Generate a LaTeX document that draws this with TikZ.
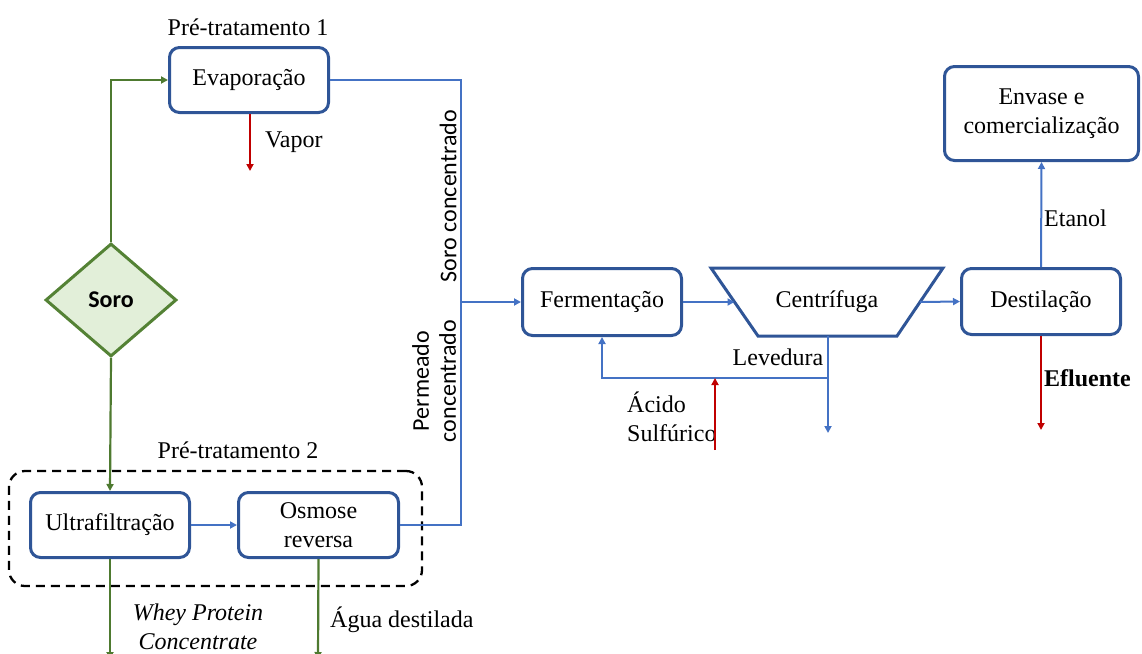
\documentclass[tikz,border=0pt]{standalone}
\usepackage{fontspec}
\setmainfont{Liberation Serif}
\newfontfamily\calibrifont{Carlito}
\usetikzlibrary{shapes.geometric,arrows.meta}
\definecolor{boxblue}{HTML}{2F5597}
\definecolor{lineblue}{HTML}{4472C4}
\definecolor{darkred}{HTML}{C00000}
\definecolor{leaf}{HTML}{4E7A30}
\definecolor{leafborder}{HTML}{548235}
\definecolor{leaffill}{HTML}{E2EFD9}
\tikzset{
  procbox/.style={draw=boxblue, line width=3pt, rounded corners=10pt, fill=white,
    inner sep=0pt, align=center},
  tip/.style={-{Triangle[length=7pt,width=7pt]}},
  blueline/.style={draw=lineblue, line width=2pt},
  redline/.style={draw=darkred, line width=2pt},
  greenline/.style={draw=leaf, line width=2.2pt},
  lbl/.style={inner sep=0pt},
  sanslbl/.style={inner sep=0pt, font=\fontsize{24}{27}\selectfont\calibrifont},
}
\begin{document}
\begin{tikzpicture}[x=1pt,y=-1pt,font=\fontsize{24}{29}\selectfont]
\useasboundingbox (0,0) rectangle (1142,653);
\clip (0,0) rectangle (1142,653);

% group box
\node[draw=black, dashed, dash pattern=on 9pt off 6pt, line width=2.3pt, rounded corners=16pt,
  minimum width=413pt, minimum height=115pt, inner sep=0pt] (grp) at (215.5,528.5) {};

% process nodes
\node[procbox, minimum width=159pt, minimum height=65pt] (evap) at (249,80) {Evaporação};
\node[procbox, minimum width=159pt, minimum height=65pt] (ultra) at (110,525) {Ultrafiltração};
\node[procbox, minimum width=160pt, minimum height=65pt] (osm) at (318.5,525) {Osmose\\reversa};
\node[procbox, minimum width=159pt, minimum height=67pt] (ferm) at (602,302) {Fermentação};
\node[procbox, minimum width=159pt, minimum height=66pt] (dest) at (1041,301.5) {Destilação};
\node[procbox, minimum width=194pt, minimum height=94pt] (env) at (1041.5,113.5) {Envase e\\comercialização};

% centrifuge (inverted trapezoid)
\draw[draw=boxblue, line width=3pt, fill=white, line join=miter]
  (711,268) -- (943,268) -- (897,336) -- (758,336) -- cycle;
\node[lbl] (centr) at (827,302) {Centrífuga};
\coordinate (centrW) at (734.5,302);
\coordinate (centrE) at (920,302);
\coordinate (centrS) at (828,336);

\node[diamond, draw=leafborder, fill=leaffill, line width=3pt, aspect=1.155,
  minimum width=131pt, minimum height=113pt, inner sep=0pt,
  font=\fontsize{24}{29}\selectfont\calibrifont\bfseries] (soro) at (111,300) {Soro};

% labels
\node[lbl] (pt1) at (248,27) {Pré-tratamento 1};
\node[lbl] (pt2) at (238,450) {Pré-tratamento 2};
\node[lbl, anchor=west] (vapor) at (265,142) {Vapor};
\node[lbl, align=center, font=\fontsize{24}{29}\selectfont\itshape] (whey) at (198,627) {Whey Protein\\Concentrate};
\node[lbl, anchor=west] (agua) at (330,620) {Água destilada};
\node[lbl] (lev) at (778,357) {Levedura};
\node[lbl, anchor=west, align=left] (acido) at (627,417) {Ácido\\Sulfúrico};
\node[lbl, anchor=west] (etanol) at (1044,218) {Etanol};
\node[lbl, anchor=west, font=\fontsize{24}{29}\selectfont\bfseries] (eflu) at (1044,378) {Efluente};
\node[sanslbl, rotate=90] (sorocon) at (448,196) {Soro concentrado};
\node[sanslbl, rotate=90, align=center] (permcon) at (434,381) {Permeado\\concentrado};

% coordinates
\coordinate (j) at (461,302);
\coordinate (jtop) at (461,80);
\coordinate (vapend) at (250,171);
\coordinate (ultraend) at (110,659);
\coordinate (osmend) at (318,659);
\coordinate (levend) at (828,433);
\coordinate (levj) at (828,378);
\coordinate (fermj) at (602,378);
\coordinate (acstart) at (715,450);
\coordinate (acend) at (715,378);
\coordinate (efend) at (1041,430);

% green connectors
\draw[greenline, tip] (soro.north) |- (evap.west);
\draw[greenline, tip] (soro.south) -- (ultra.north);
\draw[greenline, tip] (ultra.south) -- (ultraend);
\draw[greenline, tip] (osm.south) -- (osmend);

% blue connectors
\draw[blueline] (evap.east) -- (jtop) -- (j);
\draw[blueline] (osm.east) -| (j);
\draw[blueline, tip] (j) -- (ferm.west);
\draw[blueline, tip] (ultra.east) -- (osm.west);
\draw[blueline, tip] (ferm.east) -- (centrW);
\draw[blueline, tip] (centrE) -- (dest.west);
\draw[blueline, tip] (dest.north) -- (env.south);
\draw[blueline, tip] (centrS) -- (levend);
\draw[blueline, tip] (levj) -- (fermj) -- (ferm.south);

% red connectors
\draw[redline, tip] (evap.south -| vapend) -- (vapend);
\draw[redline, tip] (acstart) -- (acend);
\draw[redline, tip] (dest.south) -- (efend);
\end{tikzpicture}
\end{document}
